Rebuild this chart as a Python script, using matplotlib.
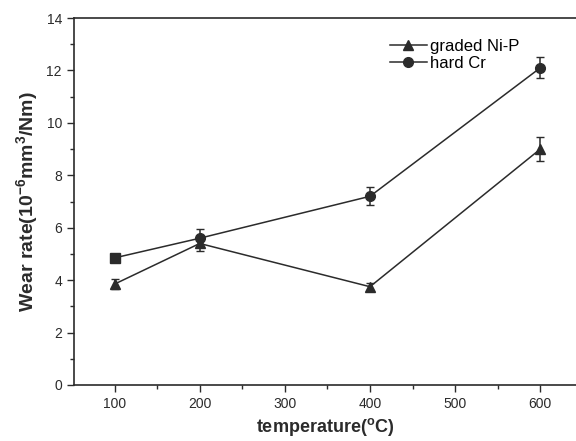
import matplotlib

matplotlib.use("Agg")
import matplotlib.pyplot as plt
from matplotlib.lines import Line2D
from matplotlib.ticker import MultipleLocator

temperature = [100, 200, 400, 600]
nip_rate = [3.85, 5.4, 3.75, 9.0]
nip_err = [0.2, 0.3, 0.15, 0.45]
cr_rate = [4.85, 5.6, 7.2, 12.1]
cr_err = [0.1, 0.35, 0.35, 0.4]

ink = "#2b2b2b"
plt.rcParams["font.family"] = ["Liberation Sans", "DejaVu Sans"]
plt.rcParams["mathtext.fontset"] = "custom"
plt.rcParams["mathtext.rm"] = "Liberation Sans"
plt.rcParams["mathtext.bf"] = "Liberation Sans:bold"

fig = plt.figure(figsize=(5.76, 4.41), dpi=100)
ax = fig.add_axes([0.128, 0.127, 0.872, 0.832])

ax.errorbar(temperature, nip_rate, yerr=nip_err, color=ink, marker="^", markersize=7,
            linewidth=1.1, capsize=3, elinewidth=1.1)
ax.errorbar(temperature, cr_rate, yerr=cr_err, color=ink, marker="o", markersize=7,
            linewidth=1.1, capsize=3, elinewidth=1.1, markevery=[1, 2, 3])
# first hard Cr point is drawn as a square in the original
ax.plot(temperature[:1], cr_rate[:1], linestyle="none", marker="s", markersize=7, color=ink)

ax.set_xlim(52, 642)
ax.set_ylim(0, 14)
ax.xaxis.set_major_locator(MultipleLocator(100))
ax.xaxis.set_minor_locator(MultipleLocator(50))
ax.yaxis.set_major_locator(MultipleLocator(2))
ax.yaxis.set_minor_locator(MultipleLocator(1))
ax.tick_params(which="major", direction="out", length=5, width=1, colors=ink, labelsize=10)
ax.tick_params(which="minor", direction="out", length=3, width=1, colors=ink)
ax.set_xticks([100, 200, 300, 400, 500, 600])
ax.set_xticklabels(["100", "200", "300", "400", "500", "600"])

ax.spines["right"].set_visible(False)
for s in ["left", "top", "bottom"]:
    ax.spines[s].set_color(ink)
    ax.spines[s].set_linewidth(1.2)

ax.set_xlabel(r"temperature($^{\mathbf{o}}$C)", fontsize=13, fontweight="bold", color=ink)
ax.set_ylabel(r"Wear rate(10$^{\mathbf{-6}}$mm$^{\mathbf{3}}$/Nm)", fontsize=14,
              fontweight="bold", color=ink)

handles = [
    Line2D([], [], color=ink, marker="^", markersize=7, linewidth=1.1),
    Line2D([], [], color=ink, marker="o", markersize=7, linewidth=1.1),
]
ax.legend(handles, ["graded Ni-P", "hard Cr"], loc="upper left",
          bbox_to_anchor=(0.6, 0.985), frameon=False, fontsize=12,
          handlelength=2.2, handletextpad=0.2, labelspacing=0.15)

plt.savefig("out.png", dpi=100, facecolor="white")
